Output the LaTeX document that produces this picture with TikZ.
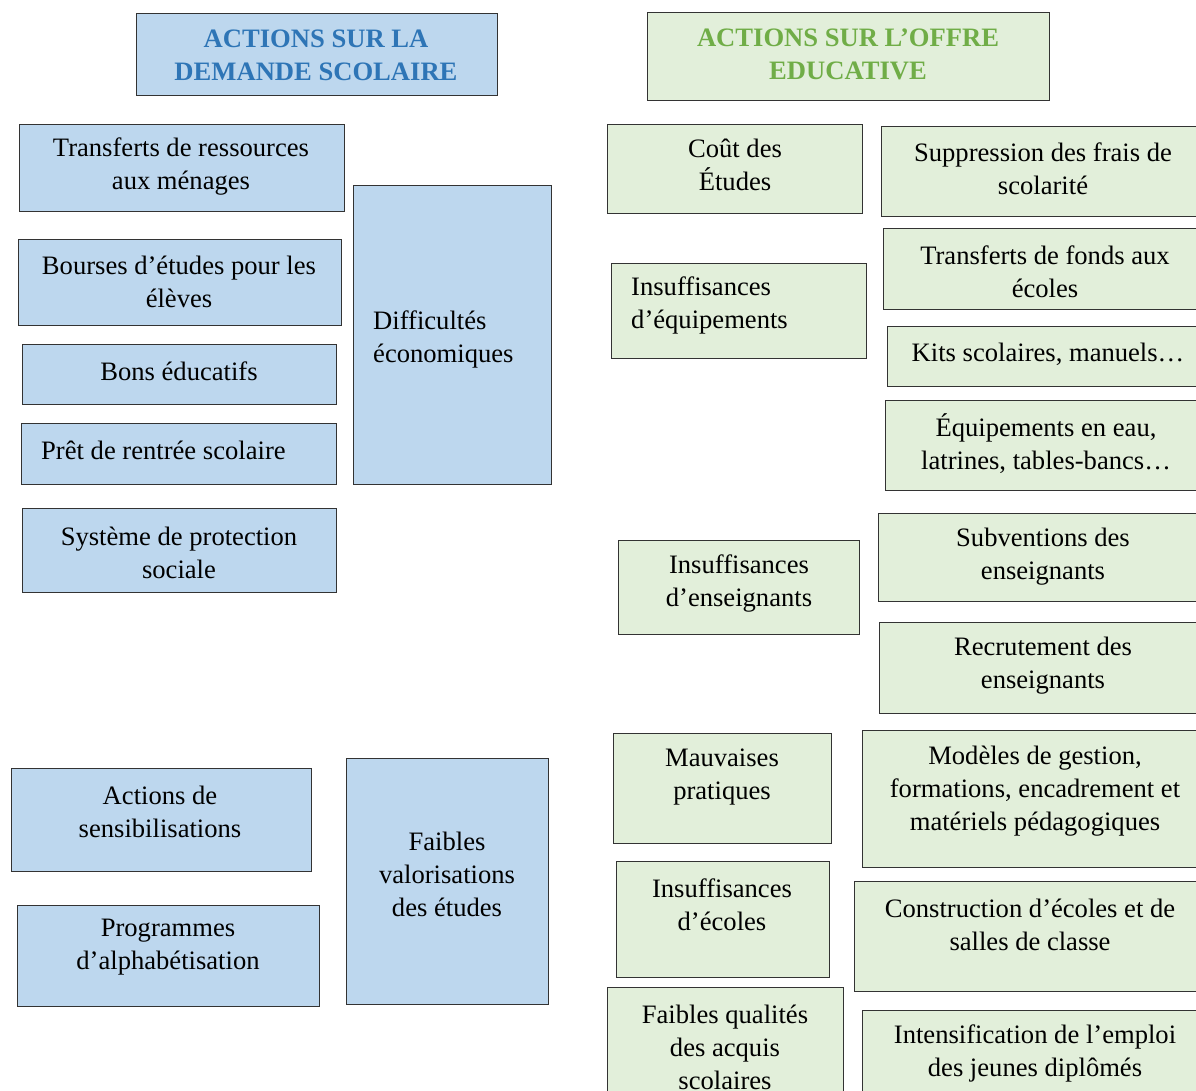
\documentclass[tikz,border=0pt]{standalone}
\usepackage{fontspec}
\setmainfont{Liberation Serif}
\definecolor{demandefill}{HTML}{BDD7EE}
\definecolor{offrefill}{HTML}{E2EFDA}
\definecolor{demandetitle}{HTML}{2E75B6}
\definecolor{offretitle}{HTML}{70AD47}
\tikzstyle{demande}=[draw=black!80, line width=.9pt, fill=demandefill]
\tikzstyle{offre}=[draw=black!80, line width=.9pt, fill=offrefill]
\tikzstyle{item}=[inner sep=0pt, align=center, font=\fontsize{26.6}{33}\selectfont]
\tikzstyle{item left}=[item, align=left, anchor=west]
\tikzstyle{title demande}=[item, text=demandetitle, font=\fontsize{26.6}{33}\selectfont\bfseries]
\tikzstyle{title offre}=[item, text=offretitle, font=\fontsize{26.6}{33}\selectfont\bfseries]

\begin{document}
\begin{tikzpicture}[x=1pt,y=-1pt]
    \clip (0,0) rectangle (1196,1091);

    % Demande scolaire
    \draw[demande] (136,13) rectangle (497,95);
    \draw[demande] (19,124) rectangle (344,211);
    \draw[demande] (18,239) rectangle (341,325);
    \draw[demande] (22,344) rectangle (336,404);
    \draw[demande] (21,423) rectangle (336,484);
    \draw[demande] (22,508) rectangle (336,592);
    \draw[demande] (353,185) rectangle (551,484);
    \draw[demande] (11,768) rectangle (311,871);
    \draw[demande] (17,905) rectangle (319,1006);
    \draw[demande] (346,758) rectangle (548,1004);

    % Offre educative
    \draw[offre] (647,12) rectangle (1049,100);
    \draw[offre] (607,124) rectangle (862,213);
    \draw[offre] (881,126) rectangle (1205,216);
    \draw[offre] (611,263) rectangle (866,358);
    \draw[offre] (883,228) rectangle (1207,309);
    \draw[offre] (887,326) rectangle (1209,386);
    \draw[offre] (885,400) rectangle (1207,490);
    \draw[offre] (618,540) rectangle (859,634);
    \draw[offre] (878,513) rectangle (1208,601);
    \draw[offre] (879,622) rectangle (1207,713);
    \draw[offre] (613,733) rectangle (831,843);
    \draw[offre] (862,730) rectangle (1208,867);
    \draw[offre] (616,861) rectangle (829,977);
    \draw[offre] (854,881) rectangle (1206,991);
    \draw[offre] (607,987) rectangle (843,1120);
    \draw[offre] (862,1010) rectangle (1208,1100);

    % Texts, demande
    \draw (316,55.5) node[title demande] (titredemande) {ACTIONS SUR LA\\DEMANDE SCOLAIRE};
    \draw (181,166.5) node[item] (transferts) {Transferts de ressources\\aux ménages};
    \draw (179,282) node[item] (bourses) {Bourses d’études pour les\\élèves};
    \draw (179,371) node[item] (bons) {Bons éducatifs};
    \draw (41,450) node[item left] (pret) {Prêt de rentrée scolaire};
    \draw (179,552.5) node[item] (protection) {Système de protection\\sociale};
    \draw (373,339) node[item left] (difficultes) {Difficultés\\économiques};
    \draw (160,811.5) node[item] (sensibilisation) {Actions de\\sensibilisations};
    \draw (168,947.5) node[item] (alphabetisation) {Programmes\\d’alphabétisation};
    \draw (447,874) node[item] (valorisation) {Faibles\\valorisations\\des études};

    % Texts, offre
    \draw (848,54.5) node[title offre] (titreoffre) {ACTIONS SUR L’OFFRE\\EDUCATIVE};
    \draw (735,165) node[item] (cout) {Coût des\\Études};
    \draw (1043,169) node[item] (suppression) {Suppression des frais de\\scolarité};
    \draw (631,305.5) node[item left] (equipements) {Insuffisances\\d’équipements};
    \draw (1045,271.5) node[item] (fonds) {Transferts de fonds aux\\écoles};
    \draw (1048,354) node[item] (kits) {Kits scolaires, manuels…};
    \draw (1046,443.5) node[item] (eau) {Équipements en eau,\\latrines, tables-bancs…};
    \draw (739,583.5) node[item] (enseignants) {Insuffisances\\d’enseignants};
    \draw (1043,556.5) node[item] (subventions) {Subventions des\\enseignants};
    \draw (1043,665.5) node[item] (recrutement) {Recrutement des\\enseignants};
    \draw (722,777) node[item] (pratiques) {Mauvaises\\pratiques};
    \draw (1035,791) node[item] (modeles) {Modèles de gestion,\\formations, encadrement et\\matériels pédagogiques};
    \draw (722,904.5) node[item] (ecoles) {Insuffisances\\d’écoles};
    \draw (1030,924.5) node[item] (construction) {Construction d’écoles et de\\salles de classe};
    \draw (725,1047) node[item] (acquis) {Faibles qualités\\des acquis\\scolaires};
    \draw (1035,1053.5) node[item] (emploi) {Intensification de l’emploi\\des jeunes diplômés};

\end{tikzpicture}
\end{document}
